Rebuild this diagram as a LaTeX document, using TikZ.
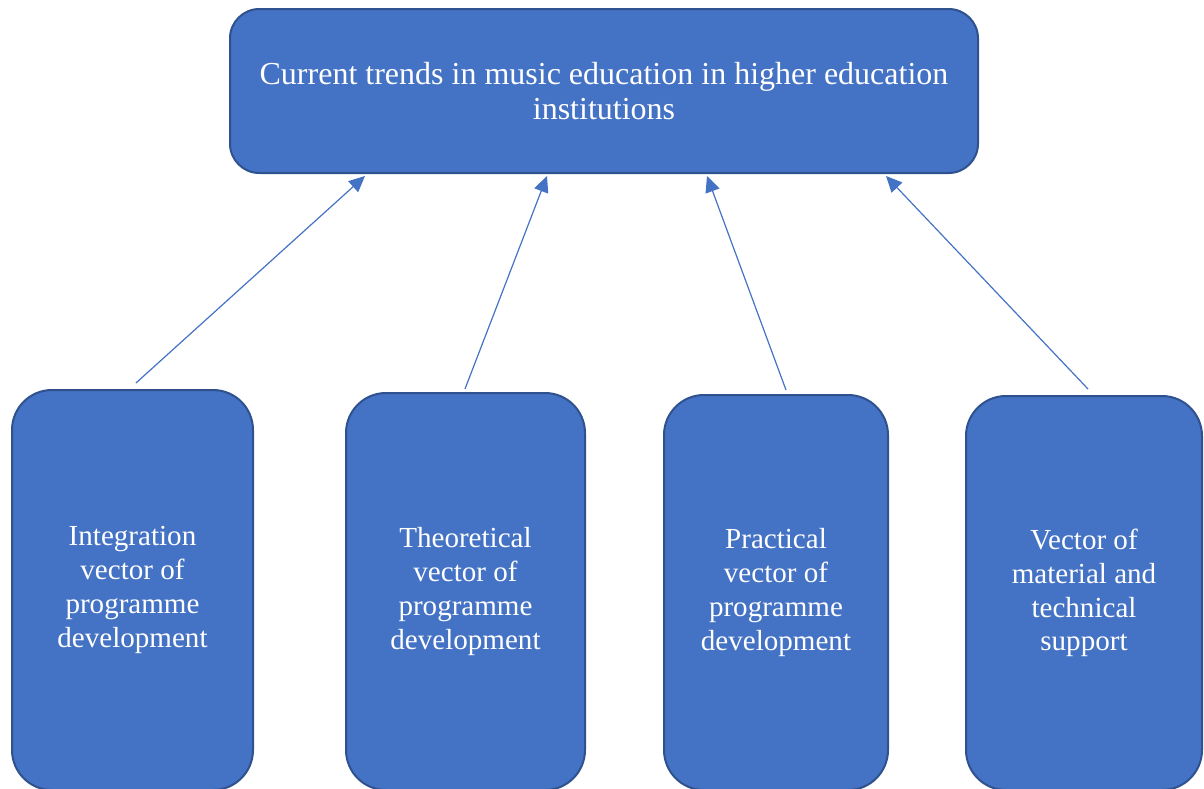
\documentclass[tikz,border=0pt]{standalone}
\usepackage{fontspec}
\setmainfont{Liberation Serif}
\usetikzlibrary{arrows.meta}

\definecolor{boxfill}{HTML}{4472C4}
\definecolor{boxline}{HTML}{2F528F}

\tikzset{every picture/.style={line width=0.75pt}}
\tikzset{
  trendbox/.style={draw=boxline, fill=boxfill, line width=1.5pt, rounded corners=22pt,
    text=white, align=center, inner sep=0pt,
    font=\fontsize{24}{26.3}\selectfont},
  vectorbox/.style={draw=boxline, fill=boxfill, line width=1.5pt, rounded corners=30pt,
    text=white, align=center, inner sep=0pt,
    font=\fontsize{21.8}{25.3}\selectfont},
  link/.style={draw=boxfill, line width=0.9pt, -{Triangle[length=12pt,width=11pt]}}
}

\begin{document}
\begin{tikzpicture}[x=0.75pt,y=0.75pt,yscale=-1,xscale=1]
        \useasboundingbox (0,0) rectangle (1204,789);

        %Top box
        \node [trendbox, minimum width=561pt, minimum height=123pt] (trends) at (604,91)
          {Current trends in music education in higher education\\institutions};

        %Vector boxes
        \node [vectorbox, minimum width=180.75pt, minimum height=300pt] (integration) at (132.5,590)
          {Integration\\vector of\\programme\\development};
        \node [vectorbox, minimum width=179.25pt, minimum height=297.75pt] (theoretical) at (465.5,591.5)
          {Theoretical\\vector of\\programme\\development};
        \node [vectorbox, minimum width=168pt, minimum height=296.25pt] (practical) at (776,592.5)
          {Practical\\vector of\\programme\\development};
        \node [vectorbox, minimum width=177pt, minimum height=295.5pt] (material) at (1084,593)
          {Vector of\\material and\\technical\\support};

        %Arrows
        \draw [link] ([xshift=2.6pt,yshift=-4.5pt]integration.north) -- ([xshift=-179.25pt,yshift=1.5pt]trends.south);
        \draw [link] ([xshift=-0.4pt,yshift=-2.25pt]theoretical.north) -- ([xshift=-42.75pt,yshift=1.5pt]trends.south);
        \draw [link] ([xshift=7.5pt,yshift=-3pt]practical.north) -- ([xshift=77.25pt,yshift=1.5pt]trends.south);
        \draw [link] ([xshift=3pt,yshift=-4.5pt]material.north) -- ([xshift=211.5pt,yshift=1.5pt]trends.south);

\end{tikzpicture}
\end{document}
